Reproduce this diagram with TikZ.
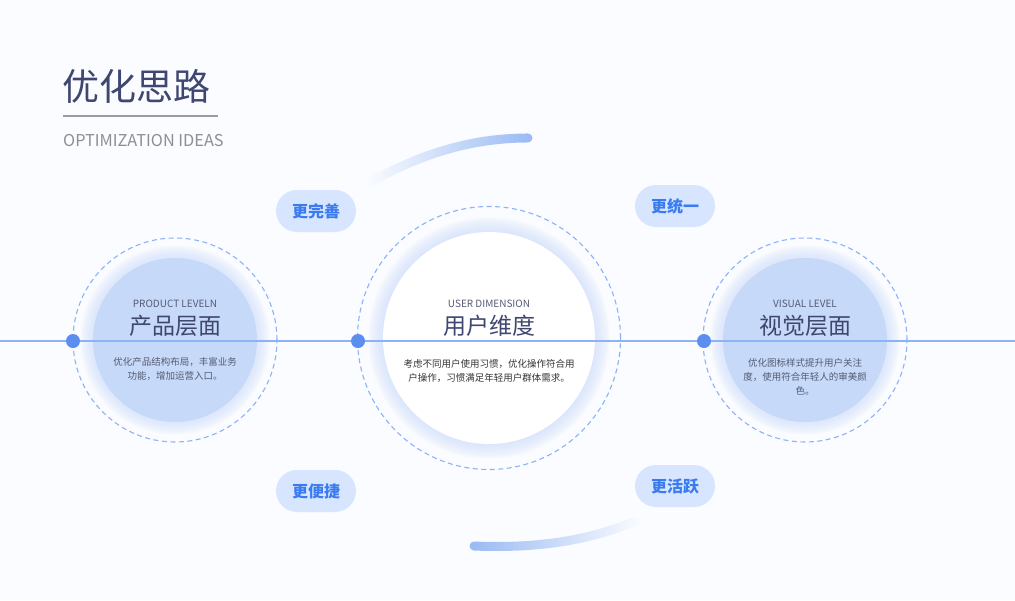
\documentclass[tikz,border=0pt]{standalone}
\usepackage{fontspec}
\setmainfont{Noto Sans CJK SC}
\usetikzlibrary{fadings}
\definecolor{bg}{HTML}{FAFCFF}
\definecolor{navy}{HTML}{3F4770}
\definecolor{subgray}{HTML}{8E8E93}
\definecolor{ruleg}{HTML}{9C9C9C}
\definecolor{lineblue}{HTML}{8DB2F6}
\definecolor{dotblue}{HTML}{5B8EEF}
\definecolor{innerblue}{HTML}{C6D9F8}
\definecolor{glowblue}{HTML}{D0DFFC}
\definecolor{pillfill}{HTML}{D7E6FE}
\definecolor{pilltext}{HTML}{3B7BF0}
\definecolor{arcblue}{HTML}{9ABAF4}
\definecolor{desc}{HTML}{555B73}
\tikzfading[name=fadeleft, left color=transparent!100, right color=transparent!0]
\tikzfading[name=faderight, left color=transparent!0, right color=transparent!100]
\tikzset{
  dashring/.style={circle, draw=lineblue, dash pattern=on 5pt off 3.5pt, line width=1.1pt, inner sep=0pt},
  dotnode/.style={circle, fill=dotblue, minimum size=14pt, inner sep=0pt},
  pill/.style={rectangle, rounded corners=21pt, fill=pillfill, minimum width=80pt, minimum height=42pt, text=pilltext, font=\fontsize{16}{18}\selectfont\bfseries},
  entxt/.style={text=desc, font=\fontsize{10}{12}\selectfont},
  cntxt/.style={text=navy, font=\fontsize{23}{26}\selectfont},
  dtxt/.style={text=desc, font=\fontsize{9.5}{14}\selectfont, align=center},
  arcline/.style={draw=arcblue, line width=9pt, line cap=round}
}
\begin{document}
\begin{tikzpicture}[x=1pt,y=-1pt]
\fill[bg] (0,0) rectangle (1015,600);
\useasboundingbox (0,0) rectangle (1015,600);
% title
\node[anchor=west, text=navy, font=\fontsize{37}{40}\selectfont, inner sep=0pt] (title) at (62,86) {优化思路};
\coordinate (rl) at (63,116); \coordinate (rr) at (218,116);
\draw[ruleg, line width=2.5pt] (rl) -- (rr);
\node[anchor=west, text=subgray, font=\fontsize{16.3}{18}\selectfont, inner sep=0pt] (sub) at (63,141) {OPTIMIZATION IDEAS};
% arcs
\coordinate (ta) at (372,181); \coordinate (tb) at (528,138);
\draw[arcline, path fading=fadeleft] (ta) .. controls (425,152) and (475,138) .. (tb);
\coordinate (ba) at (474,546); \coordinate (bb) at (636,521);
\draw[arcline, path fading=faderight] (ba) .. controls (545,549) and (595,538) .. (bb);
% left circle
\foreach \i in {14,...,1} {\fill[glowblue, opacity=0.065] (175,340) circle ({81+\i});}
\node[circle, fill=innerblue, minimum size=164pt, inner sep=0pt] (lin) at (175,340) {};
\node[dashring, minimum size=204pt] (lring) at (175,340) {};
% middle circle
\foreach \i in {16,...,1} {\fill[glowblue, opacity=0.06] (489,338) circle ({105+\i});}
\node[circle, fill=white, minimum size=212pt, inner sep=0pt] (min) at (489,338) {};
\node[dashring, minimum size=263pt] (mring) at (489,338) {};
% right circle
\foreach \i in {14,...,1} {\fill[glowblue, opacity=0.065] (805,340) circle ({81+\i});}
\node[circle, fill=innerblue, minimum size=164pt, inner sep=0pt] (rin) at (805,340) {};
\node[dashring, minimum size=204pt] (rring) at (805,340) {};
% horizontal line
\coordinate (hl) at (0,341); \coordinate (hr) at (1015,341);
\draw[lineblue, line width=1.6pt] (hl) -- (hr);
\node[dotnode] (d1) at (73,341) {};
\node[dotnode] (d2) at (358,341) {};
\node[dotnode] (d3) at (704,341) {};
% texts left
\node[entxt] (le) at (175,304) {PRODUCT LEVELN};
\node[cntxt] (lc) at (175,326) {产品层面};
\node[dtxt] (ld) at (175,369) {优化产品结构布局，丰富业务\\功能，增加运营入口。};
% texts middle
\node[entxt] (me) at (489,304) {USER DIMENSION};
\node[cntxt] (mc) at (489,326) {用户维度};
\node[dtxt, text=black!80] (md) at (489,371) {考虑不同用户使用习惯，优化操作符合用\\户操作，习惯满足年轻用户群体需求。};
% texts right
\node[entxt] (re) at (805,304) {VISUAL LEVEL};
\node[cntxt] (rc) at (805,326) {视觉层面};
\node[dtxt] (rd) at (805,377) {优化图标样式提升用户关注\\度，使用符合年轻人的审美颜\\色。};
% pills
\node[pill] (p1) at (316,211) {更完善};
\node[pill] (p2) at (675,206) {更统一};
\node[pill] (p3) at (316,491) {更便捷};
\node[pill] (p4) at (675,486) {更活跃};
\end{tikzpicture}
\end{document}
